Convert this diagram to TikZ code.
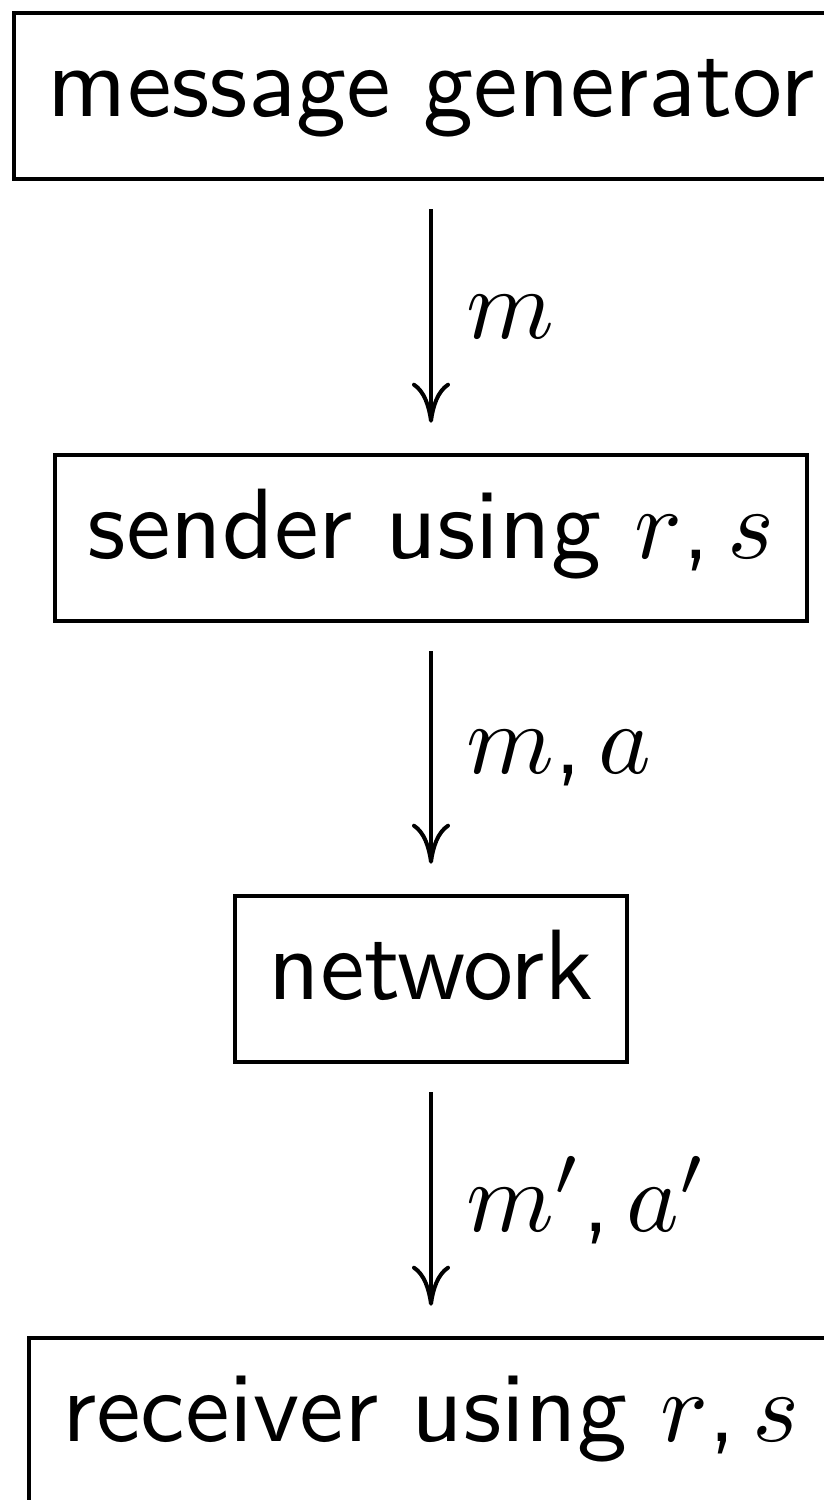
\documentclass[tikz,border=0pt]{standalone}
\usetikzlibrary{arrows.meta}

\tikzset{every picture/.style={line width=0.4pt}}
\tikzset{block/.style={draw, font=\sffamily, inner sep=3.33pt, text height=7pt, text depth=3pt},
  flow/.style={-{To[length=4pt,width=3.8pt]}, shorten <=2.8pt, shorten >=3pt},
  flowlabel/.style={font=\sffamily, right, inner sep=3.33pt}}

\begin{document}
\begin{tikzpicture}[x=0.1pt,y=0.1pt,yscale=-1,xscale=1]
%set diagram size: 823 wide, 1500 high
\useasboundingbox (0,0) rectangle (823,1500);

%Shape: Rectangle [gen]
\node [block] (gen) at (431,96) {message generator};
%Shape: Rectangle [snd]
\node [block] (snd) at (431,538) {sender using $r$,\,$s$};
%Shape: Rectangle [net]
\node [block] (net) at (431,979) {network};
%Shape: Rectangle [rcv]
\node [block] (rcv) at (431,1421) {receiver using $r$,\,$s$};

%Straight Lines
\draw [flow] (gen) -- (snd) node [flowlabel, midway] {$m$};
%Straight Lines
\draw [flow] (snd) -- (net) node [flowlabel, midway] {$m$,\,$a$};
%Straight Lines
\draw [flow] (net) -- (rcv) node [flowlabel, midway] {$m'$,\,$a'$};

\end{tikzpicture}
\end{document}
